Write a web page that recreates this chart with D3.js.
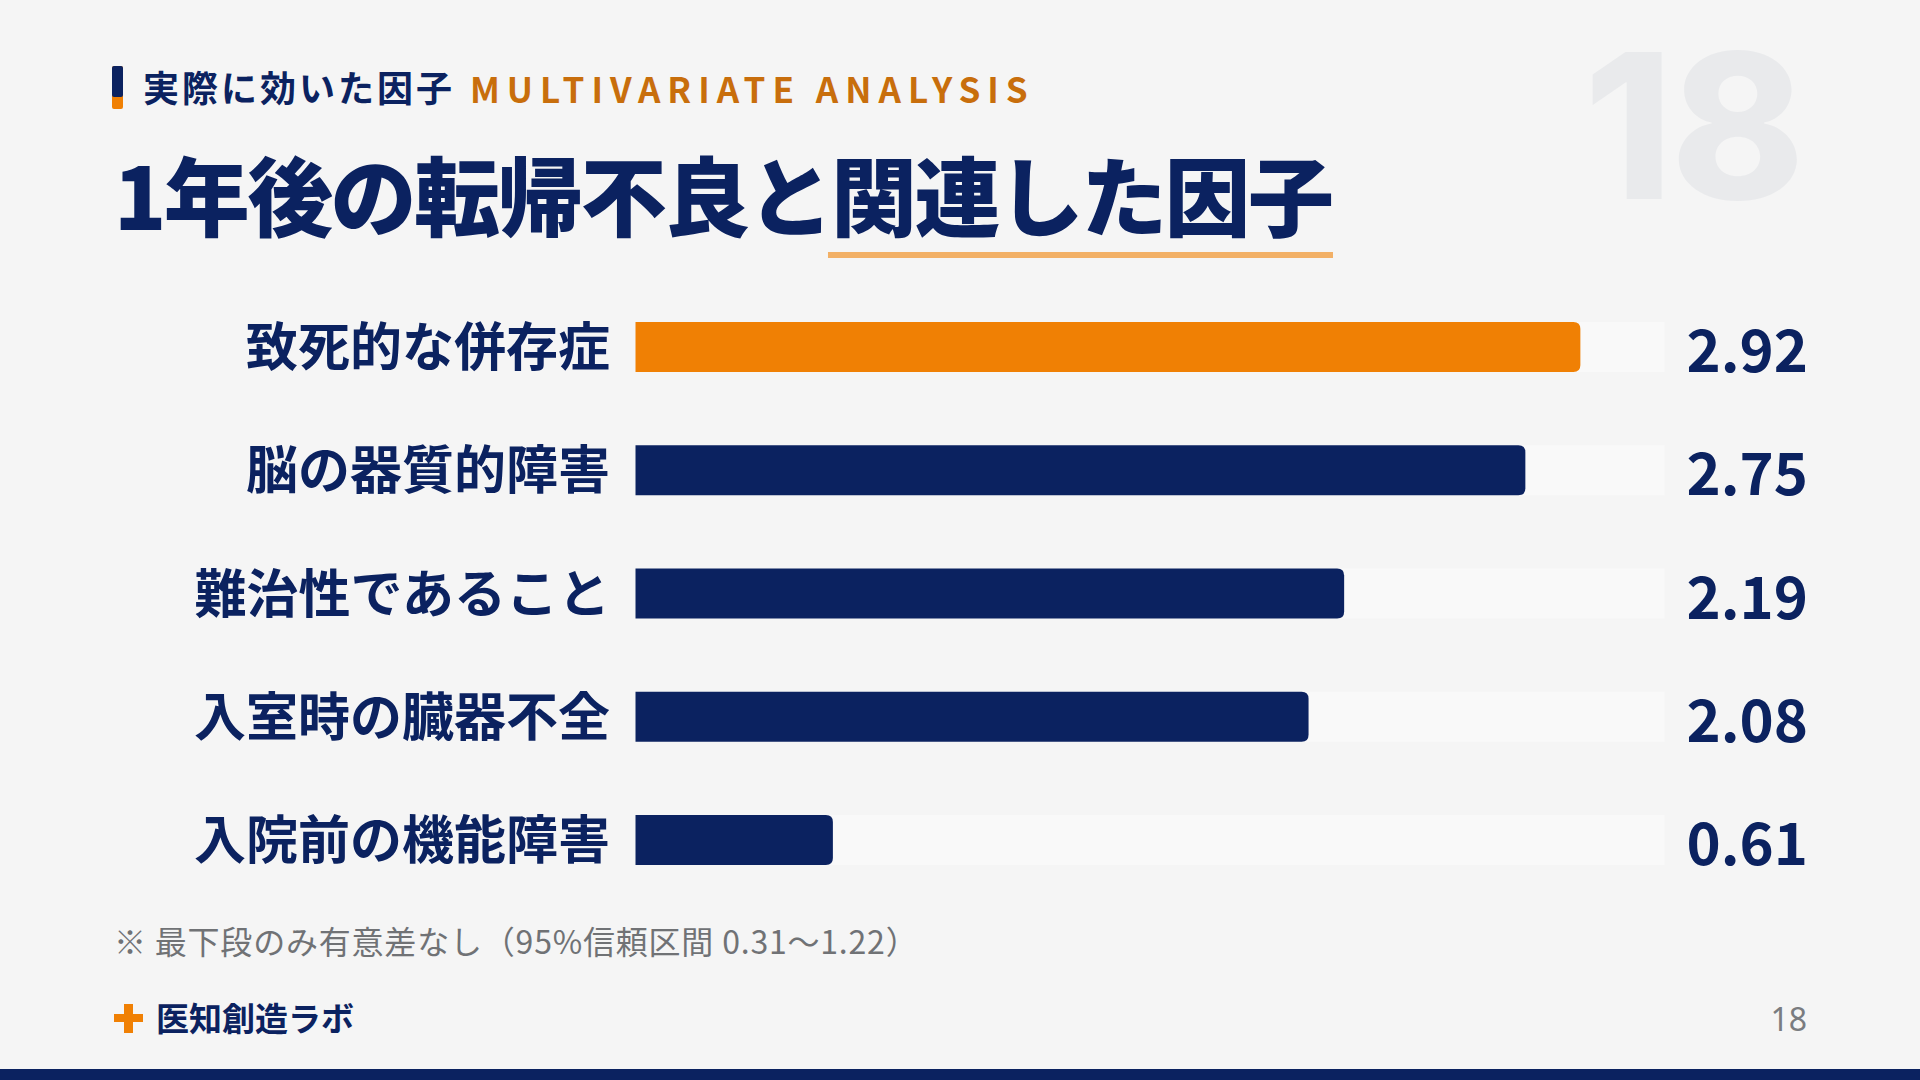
<!DOCTYPE html>
<html><head><meta charset="utf-8">
<script src="https://cdn.jsdelivr.net/npm/d3@7"></script>
<style>
html,body{margin:0;padding:0;background:#F5F5F5;}
svg{display:block;}
</style></head>
<body>
<svg id="c" width="1920" height="1080"></svg>
<script>
// ---- data ----
const categories = ["致死的な併存症","脳の器質的障害","難治性であること","入室時の臓器不全","入院前の機能障害"];
const values = [2.92, 2.75, 2.19, 2.08, 0.61];
const valueLabels = ["2.92","2.75","2.19","2.08","0.61"];
const eyebrowJa = "実際に効いた因子";
const eyebrowEn = "MULTIVARIATE ANALYSIS";
const titleParts = ["1年後の転帰不良と", "関連した因子"];
const footnote = "※ 最下段のみ有意差なし（95%信頼区間 0.31〜1.22）";
const brand = "医知創造ラボ";
const pageNo = "18";

const NAVY = "#0B2260", ORANGE = "#F08004", FONT = "'Noto Sans CJK JP','Noto Sans',sans-serif";
const svg = d3.select("#c");
svg.append("rect").attr("width",1920).attr("height",1080).attr("fill","#F5F5F5");

// watermark
svg.append("text").attr("x",1803).attr("y",199).attr("text-anchor","end")
  .attr("font-family","Inter, 'Noto Sans', sans-serif").attr("font-weight",800)
  .attr("font-size",202).attr("fill","#E9EAEC").attr("letter-spacing",-2).text(pageNo);

// eyebrow
svg.append("rect").attr("x",112).attr("y",66).attr("width",11).attr("height",43).attr("rx",2).attr("fill",ORANGE);
svg.append("rect").attr("x",112).attr("y",66).attr("width",11).attr("height",31).attr("rx",2).attr("fill",NAVY);
svg.append("text").attr("x",143).attr("y",102).attr("font-family",FONT).attr("font-weight",700)
  .attr("font-size",36).attr("letter-spacing",3).attr("fill",NAVY).text(eyebrowJa);
svg.append("text").attr("x",470).attr("y",103).attr("font-family",FONT).attr("font-weight",700)
  .attr("font-size",35).attr("letter-spacing",7).attr("fill","#C86E0C").text(eyebrowEn);

// title
const title = svg.append("text").attr("x",114).attr("y",230).attr("font-family",FONT)
  .attr("font-weight",900).attr("font-size",86).attr("letter-spacing",-2.6).attr("fill",NAVY);
title.append("tspan").text(titleParts[0]);
const t2 = title.append("tspan").text(titleParts[1]);
const tb = t2.node().getBBox();
svg.append("rect").attr("x",tb.x-3).attr("y",252).attr("width",tb.width+4).attr("height",6).attr("fill","#F2B066");

// chart
const x = d3.scaleLinear().domain([0,3.18]).range([635.5,1664.5]);
const y = d3.scalePoint().domain(categories).range([347,840]);
const barH = 50, r = 7;
const rows = svg.append("g").selectAll("g").data(categories).join("g");
rows.append("rect").attr("x",x(0)).attr("y",d=>y(d)-barH/2).attr("width",x.range()[1]-x(0))
  .attr("height",barH).attr("fill","#F9F9F9");
const maxV = d3.max(values);
rows.append("path").attr("fill",(d,i)=>values[i]===maxV?ORANGE:NAVY)
  .attr("d",(d,i)=>{
    const x0=x(0), x1=x(values[i]), y0=y(d)-barH/2, y1=y0+barH;
    return `M${x0},${y0}H${x1-r}Q${x1},${y0} ${x1},${y0+r}V${y1-r}Q${x1},${y1} ${x1-r},${y1}H${x0}Z`;
  });
rows.append("text").attr("x",610).attr("y",d=>y(d)+19).attr("text-anchor","end")
  .attr("font-family",FONT).attr("font-weight",700).attr("font-size",52).attr("fill",NAVY).text(d=>d);
rows.append("text").attr("x",1808).attr("y",d=>y(d)+25).attr("text-anchor","end")
  .attr("font-family",FONT).attr("font-weight",700).attr("font-size",58).attr("fill",NAVY)
  .text((d,i)=>valueLabels[i]);

// footnote
svg.append("text").attr("x",114).attr("y",954).attr("font-family",FONT).attr("font-weight",400)
  .attr("font-size",32).attr("letter-spacing",0.8).attr("fill","#707275").text(footnote);

// footer
svg.append("rect").attr("x",114).attr("y",1014).attr("width",29).attr("height",8).attr("fill",ORANGE);
svg.append("rect").attr("x",124).attr("y",1004).attr("width",9).attr("height",29).attr("fill",ORANGE);
svg.append("text").attr("x",156).attr("y",1031).attr("font-family",FONT).attr("font-weight",700)
  .attr("font-size",33).attr("fill",NAVY).text(brand);
svg.append("text").attr("x",1807).attr("y",1031).attr("text-anchor","end").attr("font-family","'Noto Sans',sans-serif")
  .attr("font-weight",400).attr("font-size",32).attr("fill","#7A7C80").text(pageNo);
svg.append("rect").attr("x",0).attr("y",1069).attr("width",1920).attr("height",11).attr("fill",NAVY);
</script>
</body></html>
